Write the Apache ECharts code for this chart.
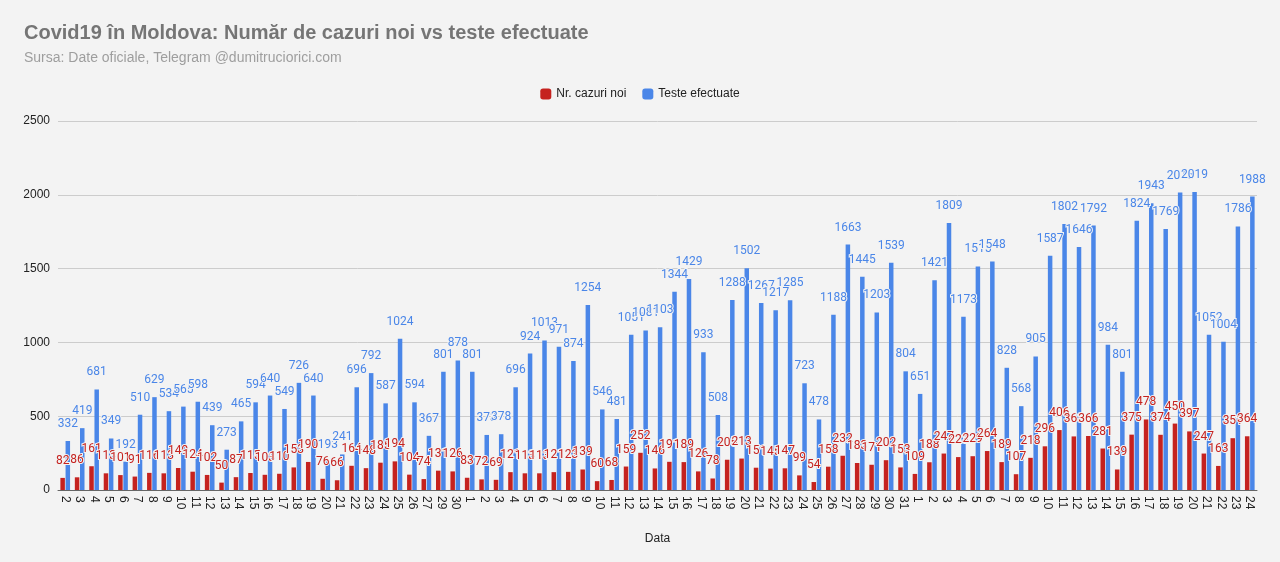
<!DOCTYPE html>
<html>
<head>
<meta charset="utf-8">
<script src="https://cdn.jsdelivr.net/npm/echarts@6/dist/echarts.min.js"></script>
<style>
  html, body { margin: 0; padding: 0; background: #f3f3f3; }
  #chart { width: 1280px; height: 562px; }
</style>
</head>
<body>
<div id="chart"></div>
<script>
    // zile: aprilie (fara 28), mai, iunie
    var zile = ['2','3','4','5','6','7','8','9','10','11','12','13','14','15','16','17','18','19','20','21','22','23','24','25','26','27','29','30',
        '1','2','3','4','5','6','7','8','9','10','11','12','13','14','15','16','17','18','19','20','21','22','23','24','25','26','27','28','29','30','31',
        '1','2','3','4','5','6','7','8','9','10','11','12','13','14','15','16','17','18','19','20','21','22','23','24'];

    var cazuriNoi = [82,86,161,113,101,91,116,113,149,124,102,50,87,115,103,110,153,190,76,66,164,148,185,194,104,74,131,126,
        83,72,69,121,113,113,121,123,139,60,68,159,252,146,191,189,126,78,205,213,151,145,147,99,54,158,232,183,171,202,153,
        109,188,247,223,229,264,189,107,218,296,406,363,366,281,139,375,478,374,450,397,247,163,351,364];

    var testeEfectuate = [332,419,681,349,192,510,629,534,565,598,439,273,465,594,640,549,726,640,193,241,696,792,587,1024,594,367,801,878,
        801,373,378,696,924,1013,971,874,1254,546,481,1051,1081,1103,1344,1429,933,508,1288,1502,1267,1217,1285,723,478,1188,1663,1445,1203,1539,804,
        651,1421,1809,1173,1515,1548,828,568,905,1587,1802,1646,1792,984,801,1824,1943,1769,2015,2019,1052,1004,1786,1988];

    var yTicks = [0, 500, 1000, 1500, 2000, 2500];

    var culoareRosu = '#c5221f';
    var culoareAlbastru = '#4a86e8';
    var fontText = '"Liberation Sans", Arial, sans-serif';

    var myChart = echarts.init(document.getElementById('chart'));
    var option = {
        backgroundColor: '#f3f3f3',
        textStyle: { fontFamily: fontText },
        title: {
            text: 'Covid19 în Moldova: Număr de cazuri noi vs teste efectuate',
            subtext: 'Sursa: Date oficiale, Telegram @dumitruciorici.com',
            left: 19,
            top: 18,
            itemGap: 8,
            textStyle: { fontSize: 20, fontWeight: 'bold', color: '#757575', fontFamily: fontText },
            subtextStyle: { fontSize: 14, color: '#9e9e9e', fontFamily: fontText }
        },
        legend: {
            top: 83,
            left: 'center',
            itemWidth: 11,
            itemHeight: 11,
            itemGap: 16,
            icon: 'roundRect',
            textStyle: { fontSize: 12, color: '#222', fontFamily: fontText },
            data: ['Nr. cazuri noi', 'Teste efectuate']
        },
        grid: {
            left: 58,
            right: 23,
            top: 121,
            bottom: 72,
            containLabel: false
        },
        xAxis: {
            type: 'category',
            data: zile,
            name: 'Data',
            nameLocation: 'middle',
            nameGap: 43,
            nameTextStyle: { fontSize: 12, color: '#222', fontFamily: fontText },
            axisTick: { show: false },
            axisLine: { lineStyle: { color: '#666' } },
            axisLabel: {
                interval: 0,
                rotate: -90,
                fontSize: 12,
                color: '#222',
                fontFamily: fontText,
                margin: 6
            }
        },
        yAxis: {
            type: 'value',
            min: yTicks[0],
            max: yTicks[yTicks.length - 1],
            interval: 500,
            axisLabel: {
                fontSize: 12,
                color: '#222',
                fontFamily: fontText,
                margin: 8,
                formatter: function (v) { return String(v); }
            },
            splitLine: { lineStyle: { color: '#cccccc' } }
        },
        series: [
            {
                name: 'Nr. cazuri noi',
                type: 'bar',
                data: cazuriNoi,
                barWidth: 4.5,
                barGap: '15%',
                itemStyle: { color: culoareRosu },
                label: {
                    show: true,
                    position: 'top',
                    distance: 11,
                    fontSize: 12,
                    fontFamily: 'Roboto, sans-serif',
                    color: culoareRosu,
                    textBorderColor: '#f3f3f3',
                    textBorderWidth: 2
                }
            },
            {
                name: 'Teste efectuate',
                type: 'bar',
                data: testeEfectuate,
                barWidth: 4.5,
                itemStyle: { color: culoareAlbastru },
                label: {
                    show: true,
                    position: 'top',
                    distance: 11,
                    fontSize: 12,
                    fontFamily: 'Roboto, sans-serif',
                    color: culoareAlbastru,
                    textBorderColor: '#f3f3f3',
                    textBorderWidth: 2
                }
            }
        ]
    };
    myChart.setOption(option, true);
</script>
</body>
</html>
